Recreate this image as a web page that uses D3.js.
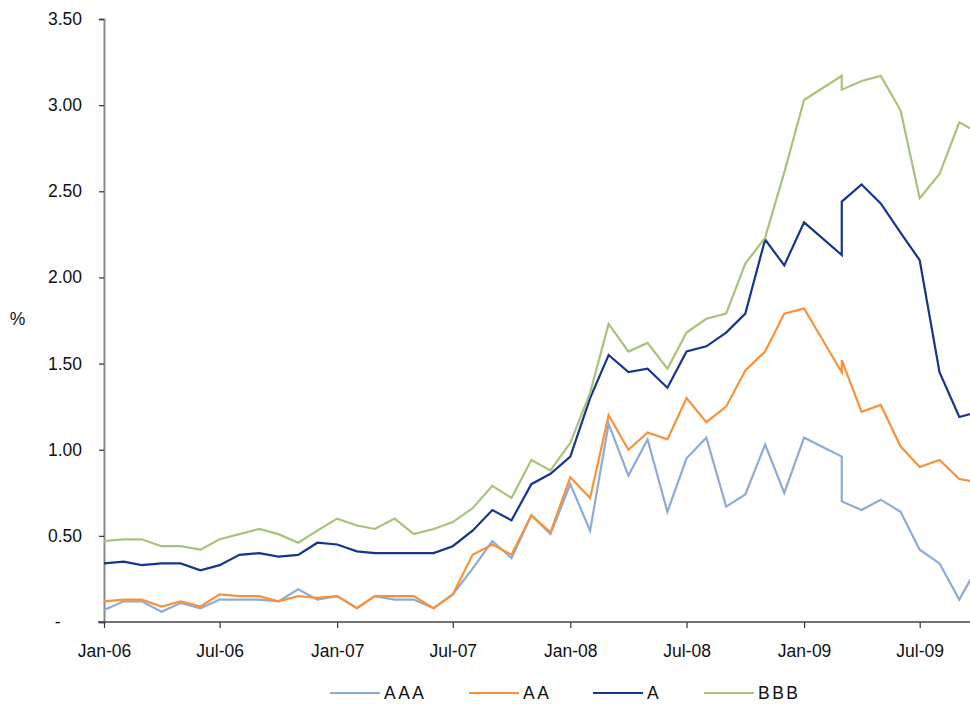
<!DOCTYPE html>
<html>
<head>
<meta charset="utf-8">
<script src="https://cdn.jsdelivr.net/npm/d3@7/dist/d3.min.js"></script>
<style>
  html, body { margin: 0; padding: 0; background: #fff; }
  svg { display: block; font-family: "Liberation Sans", Arial, Helvetica, sans-serif; }
</style>
</head>
<body>
<svg id="chart" width="970" height="704"></svg>
<script>
// Months (Feb-09 not reported; Mar-09 reported twice — series break)
const months = [
  "2006-01","2006-02","2006-03","2006-04","2006-05","2006-06","2006-07","2006-08","2006-09","2006-10","2006-11","2006-12",
  "2007-01","2007-02","2007-03","2007-04","2007-05","2007-06","2007-07","2007-08","2007-09","2007-10","2007-11","2007-12",
  "2008-01","2008-02","2008-03","2008-04","2008-05","2008-06","2008-07","2008-08","2008-09","2008-10","2008-11","2008-12",
  "2009-01","2009-03","2009-03","2009-04","2009-05","2009-06","2009-07","2009-08","2009-09","2009-10"
];
const AAA = [
  0.07,0.12,0.12,0.06,0.11,0.08,0.13,0.13,0.13,0.12,0.19,0.13,
  0.15,0.08,0.15,0.13,0.13,0.08,0.16,0.31,0.47,0.37,0.62,0.51,
  0.80,0.53,1.15,0.85,1.06,0.64,0.95,1.07,0.67,0.74,1.03,0.75,
  1.07,0.96,0.70,0.65,0.71,0.64,0.42,0.34,0.13,0.33
];
const AA = [
  0.12,0.13,0.13,0.09,0.12,0.09,0.16,0.15,0.15,0.12,0.15,0.14,
  0.15,0.08,0.15,0.15,0.15,0.08,0.16,0.39,0.45,0.39,0.62,0.52,
  0.84,0.72,1.20,1.00,1.10,1.06,1.30,1.16,1.25,1.46,1.57,1.79,
  1.82,1.45,1.52,1.22,1.26,1.02,0.90,0.94,0.83,0.81
];
const A = [
  0.34,0.35,0.33,0.34,0.34,0.30,0.33,0.39,0.40,0.38,0.39,0.46,
  0.45,0.41,0.40,0.40,0.40,0.40,0.44,0.53,0.65,0.59,0.80,0.86,
  0.96,1.30,1.55,1.45,1.47,1.36,1.57,1.60,1.68,1.79,2.22,2.07,
  2.32,2.13,2.44,2.54,2.43,2.26,2.10,1.45,1.19,1.22
];
const BBB = [
  0.47,0.48,0.48,0.44,0.44,0.42,0.48,0.51,0.54,0.51,0.46,0.53,
  0.60,0.56,0.54,0.60,0.51,0.54,0.58,0.66,0.79,0.72,0.94,0.88,
  1.04,1.33,1.73,1.57,1.62,1.47,1.68,1.76,1.79,2.08,2.23,2.61,
  3.03,3.17,3.09,3.14,3.17,2.97,2.46,2.60,2.90,2.84
];
const seriesNames = ["AAA","AA","A","BBB"];
const seriesColors = ["#8eabd6","#f7923a","#18358c","#a9c27b"];
const yTicks = [0,0.5,1,1.5,2,2.5,3,3.5];
const xTickMonths = ["2006-01","2006-07","2007-01","2007-07","2008-01","2008-07","2009-01","2009-07"];

const parse = d3.utcParse("%Y-%m");
const dates = months.map(parse);
const allSeries = [AAA, AA, A, BBB];

const svg = d3.select("#chart");
const x = d3.scaleUtc().domain([parse("2006-01"), parse("2009-07")]).range([104, 919.7]);
const y = d3.scaleLinear().domain([0, 3.5]).range([622, 19]);

const FONT = 17.5;

// Y axis
const yAxis = d3.axisLeft(y).tickValues(yTicks).tickSize(5).tickPadding(17)
  .tickFormat(d => d === 0 ? "-" : d3.format(".2f")(d));
const gy = svg.append("g").attr("transform", "translate(104,0)").call(yAxis);
gy.select(".domain").attr("stroke", "#8a8a8a").attr("stroke-width", 2);
gy.selectAll(".tick line").attr("stroke", "#333").attr("stroke-width", 1.2);
gy.selectAll(".tick text").attr("font-size", FONT).attr("fill", "#111")
  .attr("dy", null).attr("y", 5.5).style("font-family", "inherit");
gy.selectAll(".tick text").filter(d => d === 0).attr("x", -43.5);

// X axis
const xAxis = d3.axisBottom(x).tickValues(xTickMonths.map(parse)).tickSize(6).tickPadding(14)
  .tickFormat(d3.utcFormat("%b-%y"));
const gx = svg.append("g").attr("transform", "translate(0,622)").call(xAxis);
gx.select(".domain").remove();
gx.append("line").attr("x1", 98).attr("x2", 1000).attr("y1", 0).attr("y2", 0)
  .attr("stroke", "#444").attr("stroke-width", 1.3);
gx.selectAll(".tick line").attr("stroke", "#333").attr("stroke-width", 1.2);
gx.selectAll(".tick text").attr("font-size", FONT).attr("fill", "#111")
  .attr("dy", null).attr("y", 35).style("font-family", "inherit");

// % label
svg.append("text").attr("x", 17.5).attr("y", 325).attr("text-anchor", "middle")
  .attr("font-size", FONT).attr("fill", "#111").text("%");

// Lines
const line = d3.line().x((d, i) => x(dates[i])).y(d => y(d));
allSeries.forEach((vals, k) => {
  svg.append("path").datum(vals)
    .attr("d", line)
    .attr("fill", "none")
    .attr("stroke", seriesColors[k])
    .attr("stroke-width", 2.2)
    .attr("stroke-linejoin", "miter")
    .attr("stroke-miterlimit", 4);
});

// Legend
const legendX = [330, 469, 593, 704];
const lg = svg.append("g");
seriesNames.forEach((name, k) => {
  lg.append("line").attr("x1", legendX[k]).attr("x2", legendX[k] + 50)
    .attr("y1", 693).attr("y2", 693)
    .attr("stroke", seriesColors[k]).attr("stroke-width", 2);
  lg.append("text").attr("x", legendX[k] + 54).attr("y", 699.3)
    .attr("font-size", FONT).attr("fill", "#111").attr("letter-spacing", "2.5px")
    .text(name);
});
</script>
</body>
</html>
